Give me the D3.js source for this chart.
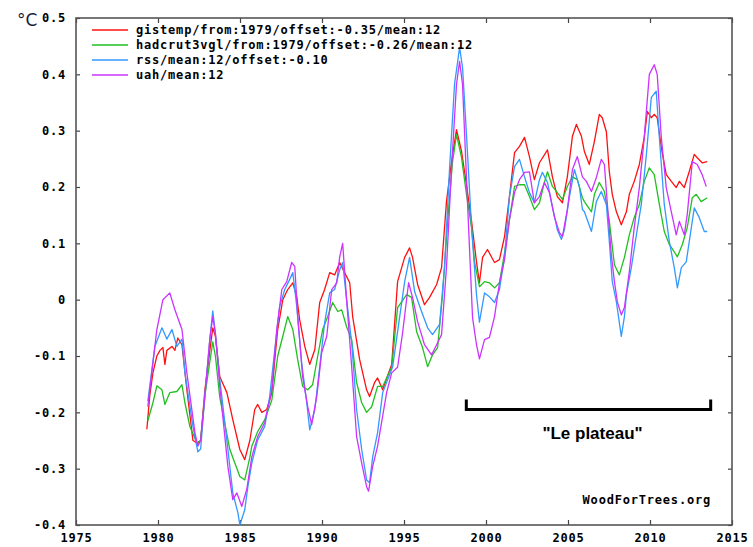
<!DOCTYPE html>
<html>
<head>
<meta charset="utf-8">
<script src="https://cdn.jsdelivr.net/npm/d3@7"></script>
<style>
body { margin: 0; background: #fff; }
</style>
</head>
<body>
<div id="chart"></div>
<script>
// ---- data ----
var yearTicks = [1975, 1980, 1985, 1990, 1995, 2000, 2005, 2010, 2015];
var tempTicks = [-0.4, -0.3, -0.2, -0.1, 0, 0.1, 0.2, 0.3, 0.4, 0.5];

var seriesNames = [
	"gistemp/from:1979/offset:-0.35/mean:12",
	"hadcrut3vgl/from:1979/offset:-0.26/mean:12",
	"rss/mean:12/offset:-0.10",
	"uah/mean:12"
];
var seriesColors = ["#ff1010", "#20c020", "#3399ff", "#cc33ff"];

var gistemp = [[1979.32,-0.23],[1979.5,-0.17],[1979.69,-0.13],[1979.93,-0.1],[1980.12,-0.09],[1980.3,-0.085],[1980.42,-0.115],[1980.54,-0.09],[1980.85,-0.083],[1981.03,-0.09],[1981.21,-0.068],[1981.46,-0.08],[1981.76,-0.16],[1982.13,-0.25],[1982.43,-0.255],[1982.6,-0.25],[1982.86,-0.16],[1983.16,-0.09],[1983.34,-0.05],[1983.5,-0.065],[1983.77,-0.137],[1984.2,-0.165],[1984.56,-0.213],[1984.99,-0.266],[1985.29,-0.284],[1985.6,-0.25],[1985.9,-0.195],[1986.08,-0.186],[1986.33,-0.2],[1986.63,-0.195],[1986.94,-0.165],[1987.12,-0.107],[1987.3,-0.053],[1987.61,0.0],[1987.91,0.018],[1988.22,0.03],[1988.46,0.005],[1988.64,-0.036],[1988.95,-0.083],[1989.25,-0.115],[1989.56,-0.089],[1989.86,-0.005],[1990.16,0.018],[1990.47,0.048],[1990.77,0.044],[1991.08,0.066],[1991.38,0.048],[1991.69,0.03],[1991.87,-0.03],[1992.3,-0.107],[1992.72,-0.16],[1992.9,-0.172],[1993.21,-0.147],[1993.39,-0.139],[1993.7,-0.16],[1993.94,-0.14],[1994.25,-0.115],[1994.61,0.032],[1995.04,0.075],[1995.34,0.092],[1995.52,0.075],[1995.83,0.027],[1996.25,-0.009],[1996.56,0.004],[1996.99,0.027],[1997.29,0.057],[1997.59,0.174],[1997.9,0.245],[1998.2,0.302],[1998.51,0.263],[1998.81,0.204],[1999.12,0.139],[1999.42,0.067],[1999.6,0.03],[1999.79,0.075],[2000.09,0.089],[2000.52,0.066],[2000.82,0.071],[2001.13,0.112],[2001.43,0.183],[2001.74,0.261],[2002.04,0.272],[2002.35,0.288],[2002.65,0.254],[2002.95,0.213],[2003.26,0.243],[2003.75,0.266],[2004.05,0.218],[2004.35,0.183],[2004.66,0.172],[2004.96,0.218],[2005.27,0.29],[2005.51,0.311],[2005.82,0.29],[2006.0,0.263],[2006.3,0.24],[2006.61,0.281],[2006.91,0.329],[2007.09,0.323],[2007.34,0.298],[2007.52,0.227],[2007.7,0.187],[2007.95,0.156],[2008.25,0.133],[2008.56,0.156],[2008.74,0.187],[2009.04,0.21],[2009.35,0.24],[2009.65,0.288],[2009.84,0.334],[2010.08,0.323],[2010.26,0.329],[2010.44,0.323],[2010.69,0.27],[2010.99,0.222],[2011.3,0.21],[2011.6,0.199],[2011.79,0.21],[2012.09,0.199],[2012.39,0.227],[2012.7,0.258],[2012.88,0.252],[2013.18,0.243],[2013.49,0.245]];

var hadcrut = [[1979.38,-0.215],[1979.69,-0.183],[1979.93,-0.153],[1980.24,-0.16],[1980.42,-0.186],[1980.72,-0.165],[1981.15,-0.163],[1981.46,-0.151],[1981.64,-0.183],[1981.94,-0.225],[1982.37,-0.254],[1982.6,-0.25],[1982.86,-0.17],[1983.16,-0.11],[1983.34,-0.075],[1983.5,-0.1],[1983.77,-0.174],[1984.38,-0.266],[1984.99,-0.314],[1985.29,-0.32],[1985.6,-0.28],[1985.72,-0.26],[1986.08,-0.234],[1986.51,-0.213],[1986.94,-0.178],[1987.3,-0.1],[1987.61,-0.065],[1987.91,-0.03],[1988.22,-0.053],[1988.52,-0.107],[1988.82,-0.154],[1989.13,-0.16],[1989.43,-0.151],[1989.74,-0.1],[1990.04,-0.053],[1990.35,-0.03],[1990.65,-0.005],[1990.96,-0.021],[1991.2,-0.018],[1991.5,-0.048],[1991.81,-0.071],[1992.11,-0.147],[1992.42,-0.183],[1992.72,-0.2],[1993.03,-0.19],[1993.39,-0.154],[1993.7,-0.154],[1994.25,-0.12],[1994.61,-0.014],[1995.16,0.009],[1995.46,0.004],[1995.77,-0.057],[1996.13,-0.085],[1996.44,-0.119],[1996.74,-0.098],[1997.05,-0.085],[1997.35,0.009],[1997.66,0.139],[1997.96,0.245],[1998.2,0.293],[1998.51,0.252],[1998.81,0.187],[1999.12,0.128],[1999.3,0.067],[1999.6,0.023],[1999.91,0.032],[2000.21,0.03],[2000.52,0.021],[2000.82,0.03],[2001.13,0.083],[2001.43,0.142],[2001.74,0.201],[2002.04,0.204],[2002.35,0.204],[2002.65,0.183],[2002.95,0.16],[2003.26,0.172],[2003.56,0.208],[2003.75,0.227],[2004.05,0.201],[2004.35,0.19],[2004.66,0.178],[2004.96,0.201],[2005.27,0.218],[2005.57,0.213],[2005.88,0.181],[2006.0,0.174],[2006.43,0.156],[2006.61,0.187],[2006.91,0.208],[2007.22,0.192],[2007.52,0.139],[2007.83,0.062],[2008.13,0.044],[2008.44,0.075],[2008.74,0.115],[2009.04,0.146],[2009.35,0.169],[2009.65,0.21],[2009.96,0.234],[2010.26,0.222],[2010.57,0.169],[2010.87,0.121],[2011.18,0.098],[2011.48,0.085],[2011.67,0.076],[2011.97,0.098],[2012.27,0.128],[2012.58,0.181],[2012.82,0.187],[2013.12,0.174],[2013.49,0.181]];

var rss = [[1979.38,-0.18],[1979.81,-0.083],[1980.24,-0.05],[1980.54,-0.07],[1980.85,-0.053],[1981.15,-0.083],[1981.46,-0.07],[1981.64,-0.13],[1982.13,-0.225],[1982.43,-0.27],[1982.6,-0.265],[1982.86,-0.17],[1983.16,-0.07],[1983.34,-0.02],[1983.5,-0.06],[1983.77,-0.142],[1984.2,-0.25],[1984.56,-0.343],[1984.87,-0.378],[1984.99,-0.4],[1985.29,-0.373],[1985.48,-0.332],[1985.72,-0.29],[1986.08,-0.249],[1986.51,-0.225],[1986.81,-0.172],[1987.12,-0.089],[1987.42,-0.012],[1987.73,0.018],[1988.03,0.036],[1988.22,0.048],[1988.46,-0.012],[1988.76,-0.112],[1989.07,-0.183],[1989.25,-0.231],[1989.56,-0.195],[1989.86,-0.119],[1990.16,-0.041],[1990.47,0.012],[1990.77,0.018],[1991.08,0.053],[1991.26,0.066],[1991.5,0.0],[1991.81,-0.076],[1992.11,-0.195],[1992.42,-0.266],[1992.72,-0.32],[1992.9,-0.325],[1993.09,-0.279],[1993.39,-0.236],[1993.7,-0.165],[1994.31,-0.119],[1994.73,-0.032],[1995.04,0.032],[1995.34,0.075],[1995.65,0.014],[1996.07,-0.021],[1996.44,-0.05],[1996.74,-0.062],[1997.17,-0.044],[1997.47,0.057],[1997.78,0.234],[1998.08,0.382],[1998.39,0.448],[1998.57,0.412],[1998.81,0.293],[1999.12,0.128],[1999.42,0.009],[1999.6,-0.04],[1999.91,0.012],[2000.21,0.005],[2000.52,-0.005],[2000.82,0.018],[2001.13,0.076],[2001.43,0.183],[2001.74,0.236],[2002.04,0.249],[2002.35,0.218],[2002.65,0.19],[2002.95,0.172],[2003.26,0.213],[2003.44,0.226],[2003.75,0.208],[2004.05,0.165],[2004.35,0.124],[2004.6,0.107],[2004.78,0.124],[2005.09,0.183],[2005.39,0.231],[2005.69,0.201],[2005.88,0.16],[2006.0,0.156],[2006.43,0.121],[2006.73,0.174],[2007.03,0.192],[2007.34,0.169],[2007.52,0.103],[2007.7,0.032],[2007.95,-0.004],[2008.25,-0.065],[2008.44,-0.03],[2008.56,0.009],[2008.86,0.057],[2009.17,0.115],[2009.47,0.169],[2009.78,0.258],[2010.08,0.359],[2010.38,0.37],[2010.57,0.288],[2010.87,0.169],[2011.18,0.103],[2011.48,0.057],[2011.67,0.021],[2011.91,0.057],[2012.21,0.067],[2012.52,0.128],[2012.7,0.163],[2013.0,0.146],[2013.31,0.121],[2013.49,0.121]];

var uah = [[1979.38,-0.19],[1979.93,-0.053],[1980.3,0.0],[1980.72,0.012],[1981.03,-0.018],[1981.46,-0.053],[1981.76,-0.13],[1982.25,-0.236],[1982.43,-0.26],[1982.6,-0.25],[1982.86,-0.17],[1983.16,-0.07],[1983.34,-0.03],[1983.5,-0.06],[1983.77,-0.155],[1984.26,-0.296],[1984.56,-0.355],[1984.81,-0.343],[1985.11,-0.367],[1985.41,-0.337],[1985.72,-0.279],[1986.08,-0.243],[1986.51,-0.218],[1986.94,-0.16],[1987.24,-0.053],[1987.55,0.018],[1987.85,0.032],[1988.15,0.066],[1988.34,0.059],[1988.52,-0.03],[1988.82,-0.137],[1989.13,-0.19],[1989.37,-0.222],[1989.68,-0.172],[1989.98,-0.094],[1990.29,-0.065],[1990.59,0.018],[1990.9,0.03],[1991.08,0.076],[1991.26,0.1],[1991.5,0.0],[1991.81,-0.119],[1992.11,-0.243],[1992.42,-0.29],[1992.72,-0.332],[1992.84,-0.34],[1993.09,-0.296],[1993.39,-0.26],[1993.94,-0.165],[1994.25,-0.13],[1994.61,-0.12],[1994.91,-0.06],[1995.28,0.03],[1995.52,0.004],[1995.83,-0.039],[1996.25,-0.08],[1996.68,-0.098],[1996.99,-0.08],[1997.29,-0.062],[1997.59,0.057],[1997.9,0.234],[1998.2,0.382],[1998.39,0.423],[1998.57,0.382],[1998.87,0.174],[1999.18,-0.032],[1999.42,-0.08],[1999.6,-0.105],[1999.91,-0.071],[2000.21,-0.067],[2000.52,-0.03],[2000.82,0.03],[2001.13,0.071],[2001.43,0.142],[2001.74,0.19],[2002.04,0.213],[2002.35,0.226],[2002.65,0.227],[2002.95,0.172],[2003.26,0.183],[2003.56,0.208],[2003.87,0.19],[2004.17,0.147],[2004.48,0.119],[2004.66,0.112],[2004.96,0.16],[2005.27,0.231],[2005.57,0.254],[2005.88,0.218],[2006.12,0.21],[2006.43,0.192],[2006.73,0.217],[2007.03,0.249],[2007.22,0.24],[2007.4,0.169],[2007.64,0.08],[2007.83,0.032],[2008.01,-0.004],[2008.25,-0.027],[2008.44,-0.014],[2008.74,0.05],[2009.04,0.128],[2009.35,0.199],[2009.65,0.288],[2009.96,0.4],[2010.26,0.417],[2010.44,0.4],[2010.69,0.288],[2010.99,0.199],[2011.3,0.156],[2011.6,0.115],[2011.79,0.139],[2012.09,0.115],[2012.27,0.151],[2012.58,0.245],[2012.88,0.24],[2013.18,0.222],[2013.43,0.201]];

var plateauYears = [1998.8, 2013.7];
var plateauLevel = -0.195;

(function(){
	var width = 753,
		height = 547,
		margin = {top: 18, right: 21, bottom: 22, left: 76};

	var monoFont = "'DejaVu Sans Mono', monospace";

	var svg = d3.select("#chart")
		.append("svg")
		.attr("width", width)
		.attr("height", height)
		.style("display", "block");

	var x = d3.scaleLinear().domain([1975, 2015]).range([margin.left, width - margin.right]);
	var y = d3.scaleLinear().domain([-0.4, 0.5]).range([height - margin.bottom, margin.top]);

	var fmt = function(d){ return d === 0 ? "0" : d.toFixed(1); };

	// axes: ticks point inward, the frame is drawn as a rect
	var gx = svg.append("g")
		.attr("transform", "translate(0," + y(-0.4) + ")")
		.call(d3.axisBottom(x).tickValues(yearTicks).tickSizeInner(-5).tickSizeOuter(0).tickPadding(8).tickFormat(d3.format("d")));
	var gxt = svg.append("g")
		.attr("transform", "translate(0," + y(0.5) + ")")
		.call(d3.axisTop(x).tickValues(yearTicks).tickSizeInner(-5).tickSizeOuter(0).tickFormat(""));
	var gy = svg.append("g")
		.attr("transform", "translate(" + x(1975) + ",0)")
		.call(d3.axisLeft(y).tickValues(tempTicks).tickSizeInner(-4).tickSizeOuter(0).tickPadding(10).tickFormat(fmt));
	var gyr = svg.append("g")
		.attr("transform", "translate(" + x(2015) + ",0)")
		.call(d3.axisRight(y).tickValues(tempTicks).tickSizeInner(-4).tickSizeOuter(0).tickFormat(""));

	[gx, gxt, gy, gyr].forEach(function(g){
		g.select(".domain").remove();
		g.selectAll(".tick line").attr("stroke", "#444").attr("stroke-width", 1.2);
		g.selectAll(".tick text")
			.attr("fill", "#000")
			.style("font-family", monoFont)
			.style("font-weight", "bold")
			.style("font-size", "12px")
			.style("letter-spacing", "0.8px");
	});

	svg.append("rect")
		.attr("x", x(1975))
		.attr("y", y(0.5))
		.attr("width", x(2015) - x(1975))
		.attr("height", y(-0.4) - y(0.5))
		.attr("fill", "none")
		.attr("stroke", "#555")
		.attr("stroke-width", 1.6);

	// unit label
	svg.append("text")
		.attr("x", 17)
		.attr("y", 26)
		.attr("fill", "#1a1a40")
		.style("font-family", "'DejaVu Sans', sans-serif")
		.style("font-size", "17px")
		.text("°C");

	// series
	var line = d3.line()
		.x(function(d){ return x(d[0]); })
		.y(function(d){ return y(d[1]); });

	var allSeries = [gistemp, hadcrut, rss, uah];

	svg.selectAll(".series")
		.data(allSeries)
		.enter().append("path")
		.attr("class", "series")
		.attr("d", line)
		.attr("fill", "none")
		.attr("stroke", function(d, i){ return seriesColors[i]; })
		.attr("stroke-width", 1.3)
		.attr("stroke-linejoin", "round");

	// legend
	var legend = svg.selectAll(".legend")
		.data(seriesNames)
		.enter().append("g")
		.attr("class", "legend")
		.attr("transform", function(d, i){ return "translate(92," + (30 + i * 15) + ")"; });

	legend.append("line")
		.attr("x1", 0)
		.attr("x2", 36)
		.attr("stroke", function(d, i){ return seriesColors[i]; })
		.attr("stroke-width", 1.3);

	legend.append("text")
		.attr("x", 44)
		.attr("y", 4)
		.attr("fill", "#000")
		.style("font-family", monoFont)
		.style("font-weight", "bold")
		.style("font-size", "12px")
		.style("letter-spacing", "0.8px")
		.text(function(d){ return d; });

	// plateau bracket
	var bx0 = x(plateauYears[0]),
		bx1 = x(plateauYears[1]),
		by = y(plateauLevel);
	svg.append("path")
		.attr("d", "M" + bx0 + "," + (by - 10) + "V" + by + "H" + bx1 + "V" + (by - 10))
		.attr("fill", "none")
		.attr("stroke", "#000")
		.attr("stroke-width", 3);

	svg.append("text")
		.attr("x", (bx0 + bx1) / 2 + 4)
		.attr("y", by + 29)
		.attr("text-anchor", "middle")
		.attr("fill", "#000")
		.style("font-family", "'Liberation Sans', Arial, sans-serif")
		.style("font-weight", "bold")
		.style("font-size", "17px")
		.text("\"Le plateau\"");

	svg.append("text")
		.attr("x", 711)
		.attr("y", 504)
		.attr("text-anchor", "end")
		.attr("fill", "#000")
		.style("font-family", monoFont)
		.style("font-weight", "bold")
		.style("font-size", "12px")
		.style("letter-spacing", "0.8px")
		.text("WoodForTrees.org");
})();
</script>
</body>
</html>
